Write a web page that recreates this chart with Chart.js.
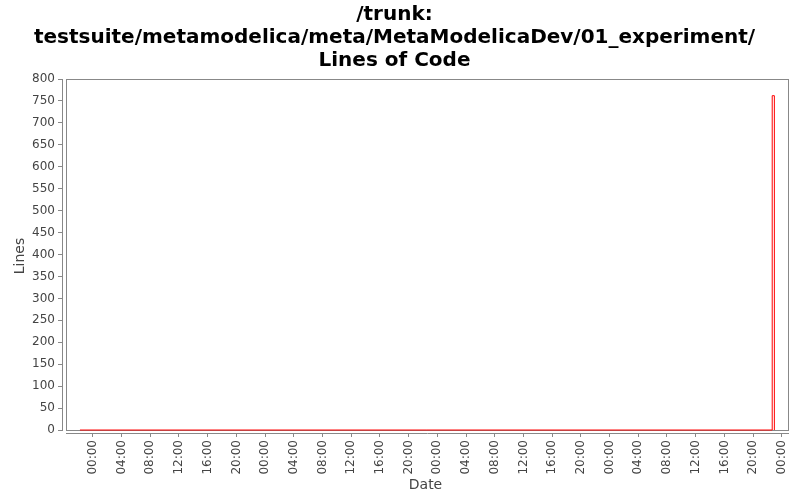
<!DOCTYPE html>
<html>
<head>
<meta charset="utf-8">
<script src="https://cdn.jsdelivr.net/npm/chart.js@4/dist/chart.umd.min.js"></script>
<style>
  html, body { margin: 0; padding: 0; background: #ffffff; }
  #wrap { width: 800px; height: 500px; }
</style>
</head>
<body>
<div id="wrap"><canvas id="chartLoc" width="800" height="500"></canvas></div>
<script>
// ---------- Datos (horas desde el primer 00:00 del eje) ----------
var locHours = [-1.8, 94.66, 94.96];
var locLines = [0, 762, 0];

// ticks del eje X cada 4 horas
var xTickHours = [0, 4, 8, 12, 16, 20, 24, 28, 32, 36, 40, 44, 48,
                  52, 56, 60, 64, 68, 72, 76, 80, 84, 88, 92, 96];
var xTickLabels = ['00:00', '04:00', '08:00', '12:00', '16:00', '20:00',
                   '00:00', '04:00', '08:00', '12:00', '16:00', '20:00',
                   '00:00', '04:00', '08:00', '12:00', '16:00', '20:00',
                   '00:00', '04:00', '08:00', '12:00', '16:00', '20:00', '00:00'];
var yTickValues = [0, 50, 100, 150, 200, 250, 300, 350, 400,
                   450, 500, 550, 600, 650, 700, 750, 800];

var titleLines = ['/trunk:', 'testsuite/metamodelica/meta/MetaModelicaDev/01_experiment/', 'Lines of Code'];

// ---------- Helpers ----------
var AXIS_GAP = 4;   // separacion estilo JFreeChart entre ejes y area del grafico
var GRIS = '#888888';
var TEXTO = '#444444';

// marco del area de datos + lineas de ejes desplazadas
var marcoPlugin = {
    id: 'marco',
    beforeDatasetsDraw: function (chart) {
        var a = chart.chartArea, ctx = chart.ctx;
        var y0 = chart.scales.y.getPixelForValue(0);
        ctx.save();
        ctx.strokeStyle = GRIS;
        ctx.lineWidth = 1;
        // marco
        ctx.strokeRect(Math.round(a.left + AXIS_GAP) + 0.5, Math.round(a.top) + 0.5,
            Math.round(a.right - a.left - AXIS_GAP) - 1, Math.round(y0 - a.top));
        // eje Y
        ctx.beginPath();
        ctx.moveTo(Math.round(a.left) + 0.5, Math.round(a.top));
        ctx.lineTo(Math.round(a.left) + 0.5, Math.round(y0) + 1);
        // eje X
        ctx.moveTo(Math.round(a.left + AXIS_GAP), Math.round(a.bottom) + 0.5);
        ctx.lineTo(Math.round(a.right), Math.round(a.bottom) + 0.5);
        ctx.stroke();
        ctx.restore();
    }
};

var puntos = locHours.map(function (h, i) { return { x: h, y: locLines[i] }; });

new Chart(document.getElementById('chartLoc'), {
    type: 'line',
    data: {
        datasets: [{
            label: 'Lines of Code',
            data: puntos,
            borderColor: '#ff0000',
            borderWidth: 1,
            pointRadius: 0,
            stepped: 'before',
            fill: false
        }]
    },
    options: {
        responsive: false,
        animation: false,
        devicePixelRatio: 1,
        layout: { padding: { left: 0, right: 11, top: 0, bottom: 0 } },
        plugins: {
            legend: { display: false },
            tooltip: { enabled: false },
            title: {
                display: true,
                text: titleLines,
                color: '#000000',
                font: { family: 'DejaVu Sans', size: 20, weight: 'bold', lineHeight: 1.15 },
                padding: { top: 3, bottom: 7 }
            }
        },
        scales: {
            x: {
                type: 'linear',
                min: -4.3,
                max: 97,
                afterFit: function (s) { s.height = 67; },
                afterBuildTicks: function (s) {
                    s.ticks = xTickHours.map(function (v) { return { value: v }; });
                },
                ticks: {
                    autoSkip: false,
                    maxRotation: 90,
                    minRotation: 90,
                    padding: 3,
                    color: TEXTO,
                    font: { family: 'DejaVu Sans', size: 12 },
                    callback: function (v, i) { return xTickLabels[i]; }
                },
                grid: { drawOnChartArea: false, drawTicks: true, tickLength: 4, color: GRIS },
                border: { display: false },
                title: {
                    display: true,
                    text: 'Date',
                    color: TEXTO,
                    font: { family: 'DejaVu Sans', size: 14 },
                    padding: { top: 2, bottom: 6 }
                }
            },
            y: {
                min: -6.8,
                max: 800,
                afterFit: function (s) { s.width = 62; },
                afterBuildTicks: function (s) {
                    s.ticks = yTickValues.map(function (v) { return { value: v }; });
                },
                ticks: {
                    padding: 3,
                    color: TEXTO,
                    font: { family: 'DejaVu Sans', size: 12 }
                },
                grid: { drawOnChartArea: false, drawTicks: true, tickLength: 4, color: GRIS },
                border: { display: false },
                title: {
                    display: true,
                    text: 'Lines',
                    color: TEXTO,
                    font: { family: 'DejaVu Sans', size: 14 },
                    padding: { top: 12, bottom: 4 }
                }
            }
        }
    },
    plugins: [marcoPlugin]
});
</script>
</body>
</html>
